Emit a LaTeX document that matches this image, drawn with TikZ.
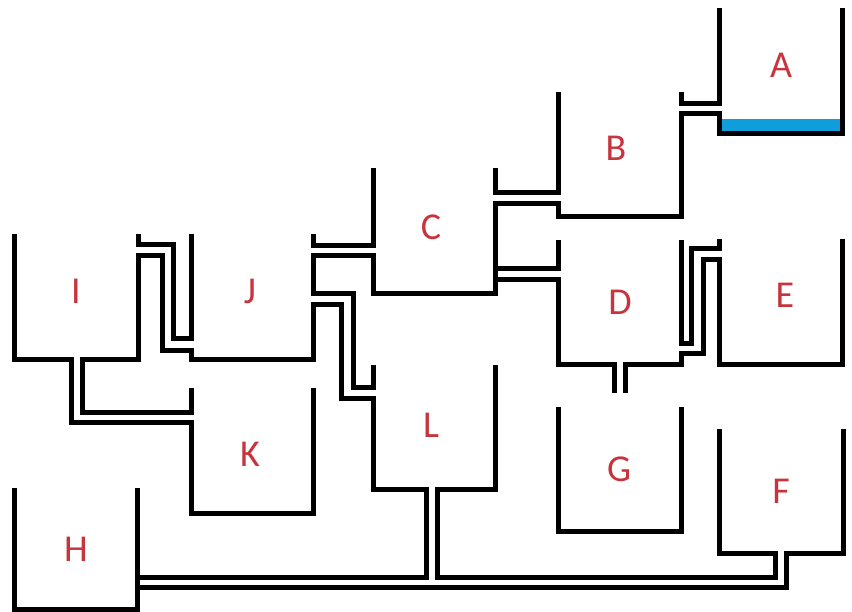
\documentclass[tikz,border=0pt]{standalone}
\usepackage{fontspec}
\setmainfont{Carlito}
\definecolor{labelred}{HTML}{C8343E}
\definecolor{water}{HTML}{0F9ED9}
\tikzset{
  wall/.style={draw=black,line width=5pt,line join=miter,line cap=butt},
  tank/.style={text=labelred,font=\fontsize{38}{38}\selectfont,inner sep=0pt}
}
\begin{document}
\begin{tikzpicture}[x=1pt,y=-1pt]
\useasboundingbox (0,0) rectangle (852,611);
\fill[water] (719,119) rectangle (842,133);
% tank outlines and pipes
\draw[wall] (842,8)--(842,133)--(719,133)--(719,113)--(681,113)--(681,216)--(558,216)--(558,203)--(495,203)--(495,293)--(373,293)--(373,255)--(313,255)--(313,293)--(353,293)--(353,387)--(373,387)--(373,365);
\draw[wall] (719,8)--(719,103)--(681,103)--(681,92);
\draw[wall] (558,92)--(558,192)--(495,192)--(495,168);
\draw[wall] (373,168)--(373,245)--(313,245)--(313,234);
\draw[wall] (558,240)--(558,268)--(495,268);
\draw[wall] (495,279)--(558,279)--(558,364)--(614,364)--(614,393);
\draw[wall] (625,393)--(625,364)--(681,364)--(681,353)--(703,353)--(703,259)--(719,259)--(719,364)--(842,364)--(842,239);
\draw[wall] (681,240)--(681,343)--(691,343)--(691,248)--(719,248)--(719,239);
\draw[wall] (558,407)--(558,531)--(681,531)--(681,407);
\draw[wall] (14,234)--(14,359)--(71,359)--(71,422)--(191,422)--(191,513)--(313,513)--(313,388);
\draw[wall] (191,388)--(191,412)--(82,412)--(82,359)--(138,359)--(138,255)--(162,255)--(162,350)--(191,350)--(191,359)--(313,359)--(313,304)--(341,304)--(341,398)--(373,398)--(373,489)--(426,489)--(426,577)--(137,577);
\draw[wall] (138,234)--(138,244)--(173,244)--(173,338)--(191,338)--(191,234);
\draw[wall] (137,488)--(137,609)--(14,609)--(14,488);
\draw[wall] (137,587)--(786,587)--(786,553)--(843,553)--(843,429);
\draw[wall] (719,429)--(719,553)--(775,553)--(775,577)--(437,577)--(437,489)--(495,489)--(495,365);
% labels
\node[tank] (a) at (781,65) {A};
\node[tank] (b) at (616,148) {B};
\node[tank] (c) at (431,227) {C};
\node[tank] (d) at (620,302) {D};
\node[tank] (e) at (785,295) {E};
\node[tank] (f) at (781,491) {F};
\node[tank] (g) at (619,469) {G};
\node[tank] (h) at (76,549) {H};
\node[tank] (i) at (76,291) {I};
\node[tank] (j) at (250,291) {J};
\node[tank] (k) at (250,454) {K};
\node[tank] (l) at (431,425) {L};
\end{tikzpicture}
\end{document}
